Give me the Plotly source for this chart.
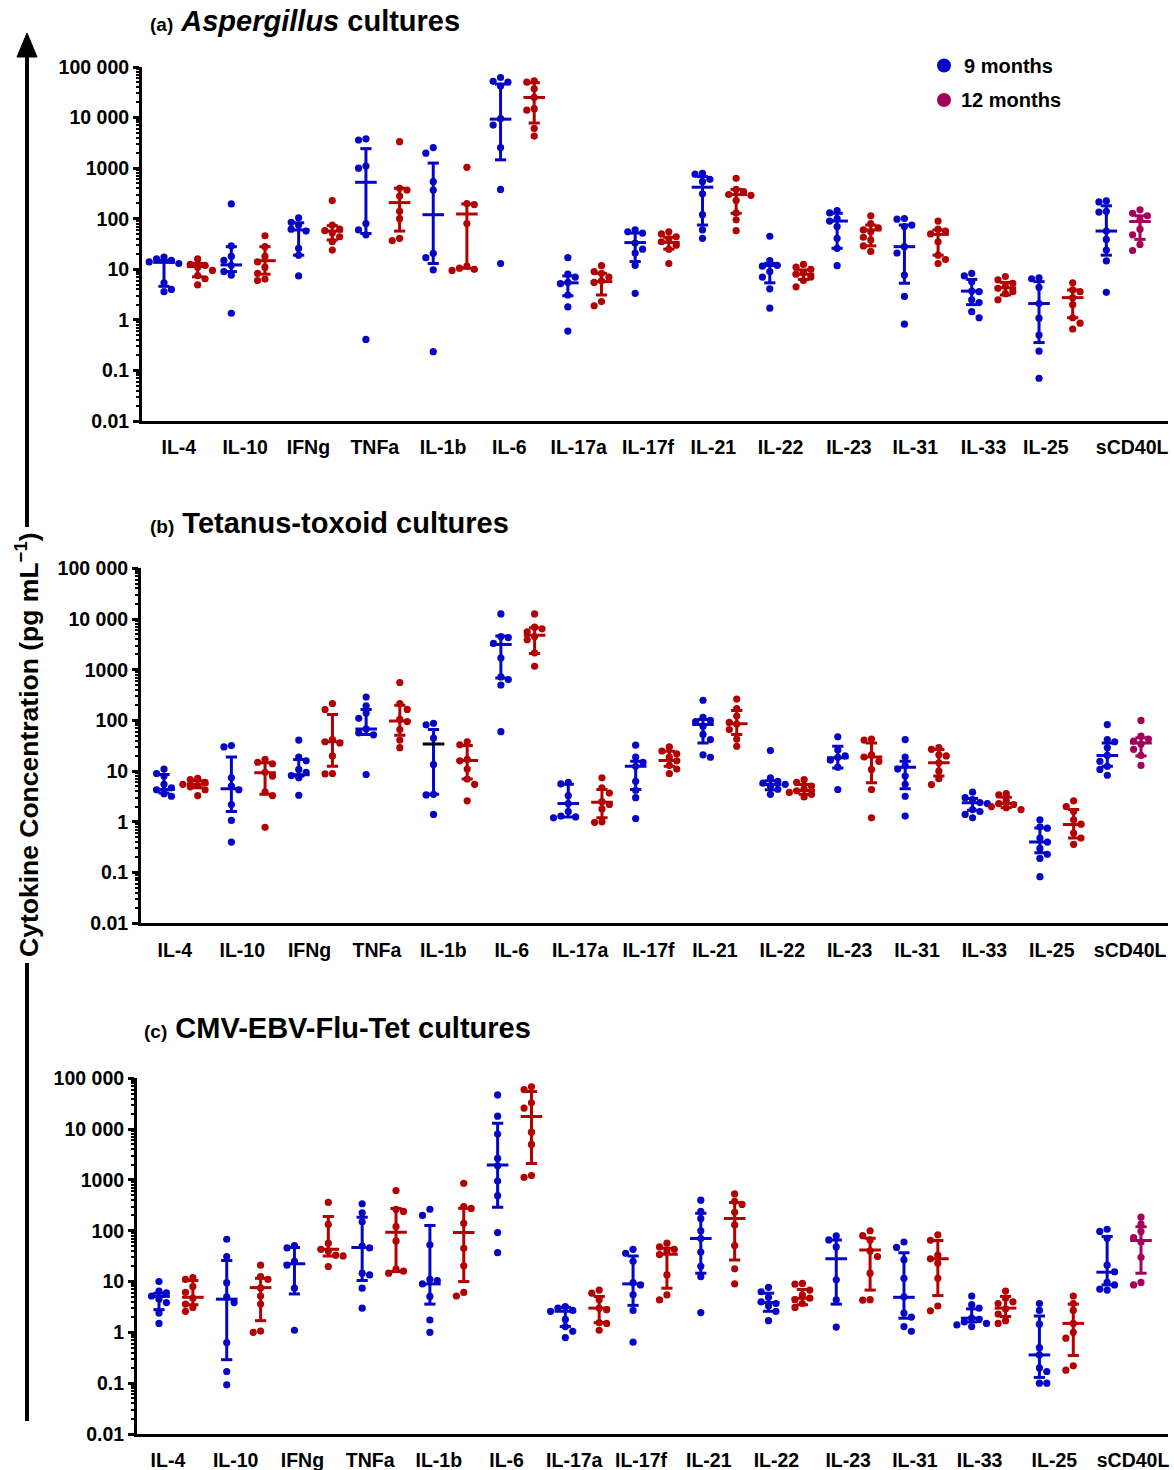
import numpy as np
import plotly.graph_objects as go

# ---------------- data ----------------
cytokines = ["IL-4", "IL-10", "IFNg", "TNFa", "IL-1b", "IL-6", "IL-17a", "IL-17f",
             "IL-21", "IL-22", "IL-23", "IL-31", "IL-33", "IL-25", "sCD40L"]
group_names = ["9 months", "12 months"]
tick_values = [0.01, 0.1, 1, 10, 100, 1000, 10000, 100000]
tick_labels = ["0.01", "0.1", "1", "10", "100", "1000", "10 000", "100 000"]

# (a) Aspergillus cultures
a_9m_points = [
    [17.5, 16, 15, 14, 13, 5.4, 4.0, 3.6],
    [196, 29, 18, 15, 12, 9, 7.7, 1.35],
    [104, 85, 75, 62, 57, 26, 19, 7.4],
    [3800, 3600, 1100, 1000, 80, 60, 48, 0.41],
    [2550, 1980, 540, 370, 20.7, 17, 9.7, 0.235],
    [62000, 52000, 50000, 42000, 9500, 7100, 2550, 380, 13],
    [17, 8, 7, 5.5, 5.2, 3.1, 1.8, 0.6],
    [60, 55, 52, 33, 25, 21, 12, 3.35],
    [790, 760, 600, 540, 310, 120, 60, 41],
    [45, 14.8, 12, 11.5, 9, 7, 4.1, 1.7],
    [144, 130, 100, 90, 70, 41, 26, 11.8],
    [101, 98, 75, 70, 28, 21, 7.7, 2.9, 0.82],
    [8.3, 7.4, 5.7, 3.7, 3.6, 2.5, 2.2, 1.45, 1.1],
    [6.8, 6.5, 4.4, 2.1, 1.08, 0.5, 0.24, 0.07],
    [225, 215, 140, 135, 57, 39, 24, 14.6, 3.5],
]
a_9m_median = [13.7, 12.2, 60, 525, 120, 9300, 5.4, 33.7, 420, 11.8, 90, 28, 3.7, 2.1, 57]
a_9m_q1 = [4.6, 9, 19, 51, 13, 1460, 3.0, 14.2, 75, 5.4, 26, 5.3, 2.0, 0.355, 19]
a_9m_q3 = [15, 28, 83, 2430, 1260, 46000, 7.4, 52, 680, 13.1, 128, 75, 6.3, 5.7, 180]

a_12m_points = [
    [16, 12.5, 12, 11, 9.5, 7.5, 6.5, 4.9],
    [46, 28, 18, 14, 11, 8.3, 6.4, 6.0],
    [228, 75, 62, 58, 52, 44, 35, 24],
    [3340, 400, 370, 280, 140, 100, 41, 37],
    [1040, 200, 190, 80, 11.5, 10.5, 10, 9.5],
    [53000, 50000, 37000, 25000, 15000, 14000, 6100, 4300],
    [11.8, 9, 8.3, 7, 5.9, 5.5, 2.3, 1.9],
    [55, 50, 44, 40, 35, 30, 25, 13],
    [630, 380, 345, 300, 290, 230, 130, 95, 58],
    [12.5, 11, 10, 8.5, 8, 7, 6, 4.5],
    [114, 80, 66, 60, 55, 43, 38, 29, 22.6],
    [90, 62, 57, 50, 35, 19, 15.6, 13],
    [7.2, 6.2, 5.3, 4.6, 4.2, 3.6, 3.3, 2.5],
    [5.4, 3.9, 3.6, 2.75, 2.0, 1.1, 0.86, 0.66],
    [150, 128, 114, 95, 62, 48, 31, 23.4],
]
a_12m_median = [11.3, 14.8, 57, 208, 124, 25000, 5.7, 34, 300, 8, 60, 49, 4.3, 2.75, 88]
a_12m_q1 = [7.1, 8, 38, 57, 10.5, 7800, 3.1, 25, 128, 6.3, 29, 19, 3.1, 1.1, 39]
a_12m_q3 = [13.1, 28, 73, 400, 196, 49000, 8.3, 43, 380, 9.7, 75, 60, 5.5, 3.9, 114]

# (b) Tetanus-toxoid cultures
b_9m_points = [
    [11, 9, 8, 5.5, 4.7, 4.3, 3.6, 3.2],
    [32, 30, 7.4, 5.1, 4.3, 2.2, 1.07, 0.4],
    [41, 19, 16, 10.8, 9.5, 8.2, 7.4, 3.35],
    [290, 195, 140, 110, 68, 57, 52, 8.6],
    [88, 82, 45, 13.5, 3.5, 3.4, 1.4],
    [12600, 4500, 4300, 3300, 1700, 720, 640, 500, 60],
    [6, 5.6, 3.3, 2.3, 1.6, 1.3, 1.25, 1.2],
    [32.5, 19, 15, 12.5, 6.3, 4.2, 3.0, 1.16],
    [250, 115, 100, 95, 77, 53, 42, 21, 18.8],
    [25.5, 7.4, 6.3, 5.8, 5.5, 5.1, 4.4, 3.5],
    [47.6, 26, 20, 18.7, 16.5, 12, 4.35],
    [42, 19, 13, 11, 8, 5.5, 3.2, 1.3],
    [3.85, 3.0, 2.75, 2.4, 2.3, 1.75, 1.6, 1.4, 1.2],
    [1.1, 0.8, 0.75, 0.48, 0.4, 0.3, 0.23, 0.19, 0.083],
    [83, 42, 38, 29, 20.4, 15.6, 12.5, 10.8, 8.3],
]
b_9m_median = [4.35, 4.5, 8.5, 68, 34.5, 3150, 2.3, 12.5, 83, 5.45, 18.3, 12, 2.37, 0.40, 20.4]
b_9m_q1 = [3.7, 1.6, 8, 53, 3.5, 690, 1.25, 4.35, 36, 4.3, 11.6, 4.5, 1.7, 0.245, 12.5]
b_9m_q3 = [8.6, 19, 17, 164, 66, 4600, 5.5, 15.7, 104, 6.5, 31, 15.7, 2.9, 0.76, 36]

b_12m_points = [
    [7.2, 6.8, 6, 5.5, 5.2, 4.9, 4.3, 3.3],
    [17, 15, 14, 9.5, 8, 3.9, 3.3, 0.78],
    [215, 164, 42, 38, 36, 20, 9, 8.8],
    [560, 215, 165, 105, 95, 66, 41, 29],
    [38, 33, 17, 16, 11, 7, 5.5, 2.6],
    [12600, 6900, 6400, 5600, 4500, 3900, 2150, 1170],
    [7.4, 4.7, 3.7, 2.5, 2.2, 1.8, 1.0, 0.98],
    [30, 25, 22, 19, 16, 13, 11, 9],
    [265, 172, 122, 92, 85, 66, 43, 31],
    [6.8, 6, 5.1, 4.5, 4.1, 3.8, 3.5, 3.1],
    [43, 41, 21, 19, 15.6, 10.8, 4.35, 1.2],
    [29, 27, 21, 20, 14.6, 10, 7.1, 5.45],
    [3.6, 3.4, 2.6, 2.3, 2.2, 2.0, 1.9, 1.75],
    [2.6, 2.0, 1.6, 1.1, 0.9, 0.6, 0.48, 0.36],
    [100, 49, 43, 39, 34, 27, 20.4, 13],
]
b_12m_median = [5.5, 9.3, 38, 97, 16.3, 4800, 2.45, 16.2, 86, 4.15, 19, 14.6, 2.3, 0.89, 36]
b_12m_q1 = [4.7, 3.5, 12.5, 51, 7, 2100, 1.2, 12.5, 53, 3.5, 5.9, 8, 1.9, 0.48, 19.8]
b_12m_q3 = [6.5, 14.6, 131, 200, 32, 6700, 4.35, 24.8, 157, 5.45, 36, 26.8, 3.05, 1.75, 45.4]

# (c) CMV-EBV-Flu-Tet cultures
c_9m_points = [
    [10, 6.5, 6, 5.2, 4.5, 3.85, 2.4, 1.5],
    [68, 31, 9.5, 5, 3.85, 0.63, 0.17, 0.093],
    [51, 46, 25, 21, 7.4, 1.1],
    [340, 225, 150, 50, 46, 14.6, 13.5, 7.4, 3.0],
    [265, 200, 53, 11, 10.5, 9, 5.1, 1.75, 1.0],
    [47000, 18000, 8000, 2650, 1900, 950, 490, 92, 37],
    [3.2, 3.0, 2.7, 2.6, 1.8, 1.3, 1.05, 0.79],
    [43, 36, 25, 9.5, 8.6, 5.5, 2.7, 0.64],
    [400, 240, 175, 100, 70, 38, 20, 12.5, 2.45],
    [7.7, 6.3, 4.9, 4.0, 3.7, 3.3, 2.6, 1.7],
    [79, 66, 48, 10.8, 4.35, 1.27],
    [60, 47, 27, 11.6, 5, 2.4, 2.0, 1.3, 1.05],
    [5.2, 3.5, 3.0, 1.9, 1.8, 1.6, 1.5, 1.4, 1.3],
    [3.7, 2.7, 1.45, 0.5, 0.36, 0.2, 0.17, 0.1, 0.1],
    [107, 97, 71, 21, 15.6, 9.6, 8.6, 7.1, 6.8],
]
c_9m_median = [5.1, 4.5, 22.3, 46.6, 9, 1970, 2.6, 9, 70, 3.85, 28, 4.9, 1.9, 0.36, 15.3]
c_9m_q1 = [2.8, 0.29, 5.7, 10.5, 3.6, 290, 1.3, 3.4, 14.6, 2.6, 3.6, 1.9, 1.6, 0.13, 8.6]
c_9m_q3 = [5.9, 26, 47, 185, 127, 13000, 3.1, 32, 222, 5.9, 66, 37, 2.9, 2.1, 77]

c_12m_points = [
    [12, 11, 8, 6.1, 4.7, 3.6, 3.1, 2.6],
    [21, 12.5, 11, 7.5, 5.2, 3.6, 1.06, 1.0],
    [360, 133, 57, 43, 40, 33, 32, 19.8],
    [620, 265, 240, 120, 63, 17.5, 16, 14.6],
    [860, 300, 275, 140, 45, 20.4, 6.1, 5.2],
    [68000, 60000, 33000, 26000, 8700, 5000, 1220, 1130],
    [6.8, 5.9, 4.4, 3.0, 2.8, 1.55, 1.5, 1.1],
    [57, 48, 43, 39, 34, 13.5, 5.45, 4.35],
    [530, 380, 330, 230, 130, 51, 17.8, 9],
    [9.2, 8.9, 6.8, 5.45, 4.7, 4.4, 3.7, 3.1],
    [100, 80, 66, 40, 31, 14.6, 4.4, 4.3],
    [83, 65, 33, 28, 23, 11.6, 3.3, 2.65],
    [6.5, 4.7, 4.0, 3.7, 2.9, 2.3, 1.7, 1.5],
    [5.2, 3.7, 2.7, 1.5, 1.0, 0.77, 0.22, 0.18],
    [185, 135, 97, 73, 60, 30, 9.6, 8.6],
]
c_12m_median = [4.9, 7.6, 43, 93, 92, 17700, 3.0, 34.5, 175, 4.7, 42, 28, 3.0, 1.5, 64]
c_12m_q1 = [3.5, 1.7, 32, 15.7, 10, 2100, 1.55, 7.4, 26.7, 3.5, 6.8, 5.3, 2.05, 0.35, 14.6]
c_12m_q3 = [10.5, 11.6, 190, 275, 278, 55000, 5.1, 45, 360, 7, 71, 64, 5.1, 3.6, 120]

# ---------------- styling / layout ----------------
W, H = 1174, 1470
BLUE = "#0505c8"
RED = "#b30000"
MAGENTA = "#a3005a"
FONT = "Liberation Sans"

panels = [
    dict(key="a", title="<span style='font-size:19px'>(a)</span> <i>Aspergillus</i> cultures",
         title_xy=(148, 21),
         points=(a_9m_points, a_12m_points), median=(a_9m_median, a_12m_median),
         q1=(a_9m_q1, a_12m_q1), q3=(a_9m_q3, a_12m_q3),
         geo=dict(x0=142, x1=1168, ytop=67, ybot=421, col0=164, colN=1140),
         label_nudge=[-2, -3, -7, -8, -7, -8, -6, -4, -6, -6, -5, -6, -5, -10, 9]),
    dict(key="b", title="<span style='font-size:19px'>(b)</span> Tetanus-toxoid cultures",
         title_xy=(148, 523),
         points=(b_9m_points, b_12m_points), median=(b_9m_median, b_12m_median),
         q1=(b_9m_q1, b_12m_q1), q3=(b_9m_q3, b_12m_q3),
         geo=dict(x0=141, x1=1168, ytop=568.3, ybot=923.3, col0=164, colN=1141),
         label_nudge=[-6, -6, -6, -6, -7, -6, -5, -4, -5, -5, -5, -5, -5, -5, 6]),
    dict(key="c", title="<span style='font-size:19px'>(c)</span> CMV-EBV-Flu-Tet cultures",
         title_xy=(142, 1028),
         points=(c_9m_points, c_12m_points), median=(c_9m_median, c_12m_median),
         q1=(c_9m_q1, c_12m_q1), q3=(c_9m_q3, c_12m_q3),
         geo=dict(x0=137, x1=1168, ytop=1078.3, ybot=1434, col0=159, colN=1141),
         label_nudge=[-8, -8, -9, -9, -8, -8, -8, -9, -9, -9, -5, -6, -9, -2, 9]),
]
# the one median bar drawn in black in the original (panel b, IL-1b, 9 months)
median_color_override = {("b", 4, 0): "black"}

MARKER_D = 7.2       # px
MEDIAN_HALF = 10.8   # px
CAP_HALF = 5.6       # px
BAR_W = 3.0          # px


def px2x(px):
    return px / W


def px2y(py):
    return 1 - py / H


def swarm(vals, ppd, ppc, diam=MARKER_D, step=7.4):
    """Beeswarm offsets (in column units) computed from the values."""
    logs = np.log10(vals)
    order = np.argsort(-logs)
    placed = []
    offs = np.zeros(len(vals))
    for n, i in enumerate(order):
        y = logs[i] * ppd
        cands = [0.0]
        for k in range(1, 8):
            if n % 2 == 0:
                cands += [k * step, -k * step]
            else:
                cands += [-k * step, k * step]
        chosen = cands[-1]
        for c in cands:
            if all((c - px) ** 2 + (y - py) ** 2 >= (diam * 0.95) ** 2 for px, py in placed):
                chosen = c
                break
        placed.append((chosen, y))
        offs[i] = chosen / ppc
    return offs


fig = go.Figure()
major_vals = tick_values
minor_vals = [m * 10.0 ** e for e in range(-2, 5) for m in range(2, 10)]

layout_axes = {}
annotations = []
shapes = []

for pi, P in enumerate(panels):
    sfx = "" if pi == 0 else str(pi + 1)
    xa, ya = "x" + sfx, "y" + sfx
    g = P["geo"]
    ppd = (g["ybot"] - g["ytop"]) / 7.0
    ppc = (g["colN"] - g["col0"]) / 29.0
    xr = [-(g["col0"] - g["x0"]) / ppc, 29 + (g["x1"] - g["colN"]) / ppc]

    markers = {}
    lines = {}
    for j, name in enumerate(cytokines):
        for gi in range(2):
            col = 2 * j + gi
            color = BLUE if gi == 0 else (MAGENTA if name == "sCD40L" else RED)
            vals = np.array(P["points"][gi][j], dtype=float)
            offs = swarm(vals, ppd, ppc)
            mk = markers.setdefault(color, ([], []))
            mk[0].extend(list(col + offs))
            mk[1].extend(list(vals))
            med = P["median"][gi][j]
            q1 = P["q1"][gi][j]
            q3 = P["q3"][gi][j]
            ch = CAP_HALF / ppc
            mh = MEDIAN_HALF / ppc
            ln = lines.setdefault(color, ([], []))
            ln[0].extend([col, col, None, col - ch, col + ch, None, col - ch, col + ch, None])
            ln[1].extend([q1, q3, None, q1, q1, None, q3, q3, None])
            mcol = median_color_override.get((P["key"], j, gi), color)
            md = lines.setdefault(mcol, ([], []))
            md[0].extend([col - mh, col + mh, None])
            md[1].extend([med, med, None])

    for color, (xs, ys) in markers.items():
        fig.add_trace(go.Scatter(x=xs, y=ys, mode="markers", xaxis=xa, yaxis=ya,
                                 marker=dict(size=MARKER_D, color=color, line=dict(width=0)),
                                 showlegend=False, hoverinfo="skip"))
    for color, (xs, ys) in lines.items():
        fig.add_trace(go.Scatter(x=xs, y=ys, mode="lines", xaxis=xa, yaxis=ya,
                                 line=dict(color=color, width=BAR_W), connectgaps=False,
                                 showlegend=False, hoverinfo="skip"))

    label_pos = [2 * j + 0.5 + P["label_nudge"][j] / ppc for j in range(len(cytokines))]
    layout_axes["xaxis" + sfx] = dict(
        domain=[px2x(g["x0"]), px2x(g["x1"])], anchor=ya, range=xr, automargin=False,
        tickmode="array", tickvals=label_pos,
        ticktext=cytokines, ticks="", showgrid=False, zeroline=False,
        showline=True, linewidth=3, linecolor="black", ticklabelstandoff=7,
        tickfont=dict(family=FONT, size=19.5, color="black", weight="bold"),
    )
    layout_axes["yaxis" + sfx] = dict(
        type="log", range=[-2, 5], domain=[px2y(g["ybot"]), px2y(g["ytop"])], anchor=xa,
        automargin=False,
        tickmode="array", tickvals=major_vals, ticktext=tick_labels,
        ticks="outside", ticklen=6, tickwidth=2.5, tickcolor="black",
        showline=True, linewidth=3, linecolor="black", showgrid=False, zeroline=False,
        tickfont=dict(family=FONT, size=19.5, color="black", weight="bold"),
        minor=dict(tickmode="array", tickvals=minor_vals, ticks="outside", ticklen=3.5,
                   tickwidth=1.5, tickcolor="black", showgrid=False),
    )

    tx, ty = P["title_xy"]
    annotations.append(dict(text=P["title"], x=px2x(tx), y=px2y(ty), xref="paper", yref="paper",
                            xanchor="left", yanchor="middle", showarrow=False,
                            font=dict(family=FONT, size=29, color="black", weight="bold")))

# legend (dots + labels)
for (label, color, cy, tx) in [(group_names[0], BLUE, 65.5, 962), (group_names[1], MAGENTA, 100, 959)]:
    r = 7
    shapes.append(dict(type="circle", xref="paper", yref="paper",
                       x0=px2x(944 - r), x1=px2x(944 + r), y0=px2y(cy + r), y1=px2y(cy - r),
                       fillcolor=color, line=dict(width=0)))
    annotations.append(dict(text=label, x=px2x(tx), y=px2y(cy), xref="paper", yref="paper",
                            xanchor="left", yanchor="middle", showarrow=False,
                            font=dict(family=FONT, size=20, color="black", weight="bold")))

# shared y-axis title with arrow
annotations.append(dict(text="Cytokine Concentration (pg mL<sup>\u22121</sup>)",
                        x=px2x(27), y=px2y(745), xref="paper", yref="paper",
                        xanchor="center", yanchor="middle", textangle=-90, showarrow=False,
                        font=dict(family=FONT, size=26.5, color="black", weight="bold")))
AX = 27
shapes.append(dict(type="line", xref="paper", yref="paper", x0=px2x(AX), x1=px2x(AX),
                   y0=px2y(55), y1=px2y(527), line=dict(color="black", width=4)))
shapes.append(dict(type="line", xref="paper", yref="paper", x0=px2x(AX), x1=px2x(AX),
                   y0=px2y(963), y1=px2y(1421), line=dict(color="black", width=4)))
shapes.append(dict(type="path", xref="paper", yref="paper",
                   path="M {:.5f},{:.5f} L {:.5f},{:.5f} L {:.5f},{:.5f} Z".format(
                       px2x(AX - 10), px2y(57), px2x(AX + 10), px2y(57), px2x(AX), px2y(33)),
                   fillcolor="black", line=dict(color="black", width=1)))

fig.update_layout(
    width=W, height=H, margin=dict(l=0, r=0, t=0, b=0, autoexpand=False),
    paper_bgcolor="white", plot_bgcolor="white", showlegend=False,
    hovermode=False, annotations=annotations, shapes=shapes,
    font=dict(family=FONT, color="black"),
    **layout_axes,
)

fig.write_html("out.html", config={"displayModeBar": False},
               post_script="document.body.style.margin='0px';document.body.style.padding='0px';")
